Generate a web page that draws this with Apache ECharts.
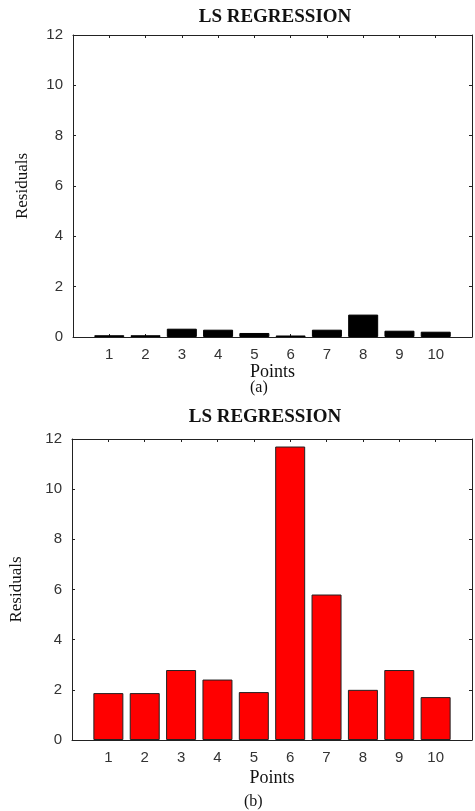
<!DOCTYPE html>
<html>
    <head>
        <meta charset="UTF-8" />
        <title>LS REGRESSION</title>
        <style>
            html,
            body {
                margin: 0;
                padding: 0;
                background: #fff;
            }
            #chart {
                width: 475px;
                height: 811px;
            }
        </style>
    </head>
    <body>
        <div id="chart"></div>
        <script src="https://cdn.jsdelivr.net/npm/echarts@6/dist/echarts.min.js"></script>
        <script>
            const points = [1, 2, 3, 4, 5, 6, 7, 8, 9, 10];
            const residualsA = [0.07, 0.07, 0.33, 0.29, 0.16, 0.06, 0.29, 0.89, 0.25, 0.21];
            const residualsB = [1.87, 1.87, 2.79, 2.41, 1.91, 11.7, 5.8, 2.0, 2.79, 1.71];
            const yTicks = [0, 2, 4, 6, 8, 10, 12];

            const chart = echarts.init(document.getElementById("chart"));

            const serif = "Liberation Serif";
            const sans = "Liberation Sans";
            const tickLabel = { fontFamily: sans, fontSize: 15, color: "#333" };
            const line = { show: true, onZero: false, lineStyle: { color: "#222", width: 1 } };
            const tick = { show: true, inside: true, length: 3, lineStyle: { color: "#222" } };

            function xAxes(gridIndex, gap) {
                return [
                    {
                        gridIndex,
                        type: "value",
                        min: 0,
                        max: 11,
                        interval: 1,
                        position: "bottom",
                        name: "Points",
                        nameLocation: "middle",
                        nameGap: gap,
                        nameTextStyle: { fontFamily: serif, fontSize: 18, color: "#111", verticalAlign: "top" },
                        axisLine: line,
                        axisTick: tick,
                        axisLabel: Object.assign({ margin: 10, formatter: (v) => (v >= 1 && v <= 10 ? String(v) : "") }, tickLabel),
                        splitLine: { show: false },
                    },
                    {
                        gridIndex,
                        type: "value",
                        min: 0,
                        max: 11,
                        interval: 1,
                        position: "top",
                        axisLine: line,
                        axisTick: tick,
                        axisLabel: { show: false },
                        splitLine: { show: false },
                    },
                ];
            }

            function yAxes(gridIndex, gap) {
                return [
                    {
                        gridIndex,
                        type: "value",
                        min: yTicks[0],
                        max: yTicks[yTicks.length - 1],
                        interval: 2,
                        position: "left",
                        name: "Residuals",
                        nameLocation: "middle",
                        nameGap: gap,
                        nameTextStyle: { fontFamily: serif, fontSize: 17, color: "#111" },
                        axisLine: line,
                        axisTick: tick,
                        axisLabel: Object.assign({ margin: 10 }, tickLabel),
                        splitLine: { show: false },
                    },
                    {
                        gridIndex,
                        type: "value",
                        min: yTicks[0],
                        max: yTicks[yTicks.length - 1],
                        interval: 2,
                        position: "right",
                        axisLine: line,
                        axisTick: tick,
                        axisLabel: { show: false },
                        splitLine: { show: false },
                    },
                ];
            }

            const titleStyle = { fontFamily: serif, fontSize: 19, fontWeight: "bold", color: "#111" };

            const option = {
                animation: false,
                title: [
                    { text: "LS REGRESSION", left: 270, top: 3, textAlign: "center", textStyle: titleStyle },
                    { text: "LS REGRESSION", left: 260, top: 403, textAlign: "center", textStyle: titleStyle },
                ],
                graphic: [
                    {
                        type: "text",
                        left: 250,
                        top: 380,
                        style: { text: "(a)", font: "16px " + serif, fill: "#111" },
                    },
                    {
                        type: "text",
                        left: 244,
                        top: 794,
                        style: { text: "(b)", font: "16px " + serif, fill: "#111" },
                    },
                ],
                grid: [
                    { left: 73, top: 35, width: 407, height: 302 },
                    { left: 67, top: 439, width: 405, height: 301 },
                ],
                xAxis: [...xAxes(0, 24), ...xAxes(1, 29)],
                yAxis: [...yAxes(0, 42), ...yAxes(1, 47)],
                series: [
                    {
                        type: "bar",
                        xAxisIndex: 0,
                        yAxisIndex: 0,
                        barWidth: 30,
                        data: points.map((p, i) => [p, residualsA[i]]),
                        itemStyle: { color: "#000", borderColor: "#000", borderWidth: 1 },
                    },
                    {
                        type: "bar",
                        xAxisIndex: 2,
                        yAxisIndex: 2,
                        barWidth: 30,
                        data: points.map((p, i) => [p, residualsB[i]]),
                        itemStyle: { color: "#ff0000", borderColor: "#222", borderWidth: 1 },
                    },
                ],
            };

            chart.setOption(option);
        </script>
    </body>
</html>
